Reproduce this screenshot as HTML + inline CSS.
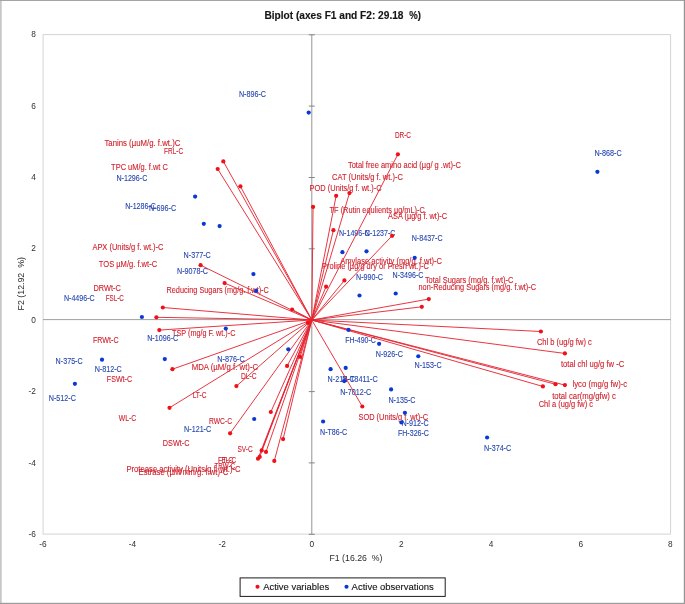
<!DOCTYPE html>
<html><head><meta charset="utf-8"><title>Biplot</title>
<style>html,body{margin:0;padding:0;background:#fff}body{width:685px;height:604px;overflow:hidden}svg{display:block;will-change:transform}text{font-family:"Liberation Sans",sans-serif}</style></head><body>
<svg width="685" height="604" viewBox="0 0 685 604">
<rect x="0" y="0" width="685" height="604" fill="#fff"/>
<rect x="0" y="0" width="1.7" height="604" fill="#c6c6c6"/>
<rect x="0" y="0" width="685" height="1" fill="#a4a4a4"/>
<rect x="683.8" y="0" width="1.2" height="604" fill="#949494"/>
<rect x="0" y="602.8" width="685" height="1.2" fill="#9c9c9c"/>
<rect x="43.1" y="34.6" width="627.5" height="499.5" fill="none" stroke="#d4d4d4" stroke-width="1"/>
<g stroke="#949494" stroke-width="1">
<line x1="43.1" y1="319.60" x2="670.6" y2="319.60" stroke-width="0.85" stroke="#8e8e8e"/>
<line x1="311.8" y1="34.6" x2="311.8" y2="534.1"/>
<line x1="308.8" y1="34.8" x2="314.8" y2="34.8" stroke="#7a7a7a" stroke-width="0.9"/>
<line x1="308.8" y1="106.1" x2="314.8" y2="106.1" stroke="#7a7a7a" stroke-width="0.9"/>
<line x1="308.8" y1="177.5" x2="314.8" y2="177.5" stroke="#7a7a7a" stroke-width="0.9"/>
<line x1="308.8" y1="248.8" x2="314.8" y2="248.8" stroke="#7a7a7a" stroke-width="0.9"/>
<line x1="308.8" y1="391.6" x2="314.8" y2="391.6" stroke="#7a7a7a" stroke-width="0.9"/>
<line x1="308.8" y1="462.9" x2="314.8" y2="462.9" stroke="#7a7a7a" stroke-width="0.9"/>
<line x1="308.8" y1="534.3" x2="314.8" y2="534.3" stroke="#7a7a7a" stroke-width="0.9"/>
</g>
<g font-size="8.3" fill="#303030">
<text x="35.8" y="37.3" text-anchor="end">8</text>
<text x="35.8" y="108.7" text-anchor="end">6</text>
<text x="35.8" y="180.0" text-anchor="end">4</text>
<text x="35.8" y="251.4" text-anchor="end">2</text>
<text x="35.8" y="322.8" text-anchor="end">0</text>
<text x="35.8" y="394.1" text-anchor="end">-2</text>
<text x="35.8" y="465.5" text-anchor="end">-4</text>
<text x="35.8" y="536.8" text-anchor="end">-6</text>
<text x="42.9" y="547.3" text-anchor="middle">-6</text>
<text x="132.5" y="547.3" text-anchor="middle">-4</text>
<text x="222.2" y="547.3" text-anchor="middle">-2</text>
<text x="311.8" y="547.3" text-anchor="middle">0</text>
<text x="401.4" y="547.3" text-anchor="middle">2</text>
<text x="491.1" y="547.3" text-anchor="middle">4</text>
<text x="580.7" y="547.3" text-anchor="middle">6</text>
<text x="670.4" y="547.3" text-anchor="middle">8</text>
</g>
<g font-size="10.4" font-weight="bold" fill="#161616" stroke="#161616" stroke-width="0.15"><text x="264.4" y="18.8" textLength="139.1" lengthAdjust="spacingAndGlyphs">Biplot (axes F1 and F2: 29.18</text><text x="409.3" y="18.8" textLength="11.7" lengthAdjust="spacingAndGlyphs">%)</text></g>
<text x="329.5" y="560.8" font-size="9.5" fill="#2a2a2a" textLength="52.9" lengthAdjust="spacingAndGlyphs" xml:space="preserve">F1 (16.26  %)</text>
<text transform="translate(23.7,310.4) rotate(-90)" font-size="9.5" fill="#2a2a2a" textLength="53.3" lengthAdjust="spacingAndGlyphs" xml:space="preserve">F2 (12.92  %)</text>
<g font-size="8.20" fill="#d0202c" stroke="#d0202c" stroke-width="0.1">
<text x="104.4" y="145.80" textLength="76.0" lengthAdjust="spacingAndGlyphs">Tanins (µuM/g. f.wt.)C</text>
<text x="164.1" y="153.60" textLength="19.1" lengthAdjust="spacingAndGlyphs">FRL-C</text>
<text x="111.1" y="170.20" textLength="56.8" lengthAdjust="spacingAndGlyphs">TPC uM/g. f.wt C</text>
<text x="92.4" y="250.20" textLength="71.1" lengthAdjust="spacingAndGlyphs">APX (Units/g f. wt.)-C</text>
<text x="98.8" y="266.70" textLength="58.3" lengthAdjust="spacingAndGlyphs">TOS µM/g. f.wt-C</text>
<text x="93.5" y="291.20" textLength="27.3" lengthAdjust="spacingAndGlyphs">DRWt-C</text>
<text x="166.5" y="293.00" textLength="102.3" lengthAdjust="spacingAndGlyphs">Reducing Sugars (mg/g. f.wt)-C</text>
<text x="105.8" y="301.00" textLength="18.1" lengthAdjust="spacingAndGlyphs">FSL-C</text>
<text x="93.0" y="343.20" textLength="25.6" lengthAdjust="spacingAndGlyphs">FRWt-C</text>
<text x="172.1" y="336.20" textLength="63.3" lengthAdjust="spacingAndGlyphs">TSP (mg/g F. wt.)-C</text>
<text x="106.8" y="381.50" textLength="25.3" lengthAdjust="spacingAndGlyphs">FSWt-C</text>
<text x="191.7" y="370.00" textLength="66.5" lengthAdjust="spacingAndGlyphs">MDA (µM/g f. wt)-C</text>
<text x="240.9" y="378.50" textLength="15.6" lengthAdjust="spacingAndGlyphs">DL-C</text>
<text x="192.7" y="398.20" textLength="13.8" lengthAdjust="spacingAndGlyphs">LT-C</text>
<text x="118.8" y="420.60" textLength="17.4" lengthAdjust="spacingAndGlyphs">WL-C</text>
<text x="209.0" y="424.30" textLength="23.1" lengthAdjust="spacingAndGlyphs">RWC-C</text>
<text x="162.8" y="446.40" textLength="26.6" lengthAdjust="spacingAndGlyphs">DSWt-C</text>
<text x="237.4" y="452.20" textLength="15.3" lengthAdjust="spacingAndGlyphs">SV-C</text>
<text x="218.0" y="463.40" textLength="15.2" lengthAdjust="spacingAndGlyphs">FT-C</text>
<text x="221.5" y="463.40" textLength="14.6" lengthAdjust="spacingAndGlyphs">EL-C</text>
<text x="214.6" y="469.40" textLength="20.4" lengthAdjust="spacingAndGlyphs">TRW-C</text>
<text x="126.4" y="471.80" textLength="114.2" lengthAdjust="spacingAndGlyphs">Protease activity (Units/g f. wt.)-C</text>
<text x="138.6" y="474.50" textLength="89.6" lengthAdjust="spacingAndGlyphs">Estrase (µM/min/g. f.wt)-C</text>
<text x="394.9" y="137.80" textLength="16.1" lengthAdjust="spacingAndGlyphs">DR-C</text>
<text x="347.9" y="168.30" textLength="113.0" lengthAdjust="spacingAndGlyphs">Total free amino acid (µg/ g .wt)-C</text>
<text x="332.1" y="180.10" textLength="70.8" lengthAdjust="spacingAndGlyphs">CAT (Units/g f. wt.)-C</text>
<text x="309.6" y="190.50" textLength="72.0" lengthAdjust="spacingAndGlyphs">POD (Units/g f. wt.)-C</text>
<text x="329.6" y="213.40" textLength="95.2" lengthAdjust="spacingAndGlyphs">TF (Rutin equlients µg/mL)-C</text>
<text x="388.1" y="219.20" textLength="59.0" lengthAdjust="spacingAndGlyphs">ASA (µg/g f. wt)-C</text>
<text x="340.2" y="263.90" textLength="101.9" lengthAdjust="spacingAndGlyphs">Amylase activity (mg/g. f.wt)-C</text>
<text x="322.1" y="269.10" textLength="106.7" lengthAdjust="spacingAndGlyphs">Proline (µg/g dry or Fresh wt.)-C</text>
<text x="424.9" y="282.60" textLength="88.5" lengthAdjust="spacingAndGlyphs">Total Sugars (mg/g. f.wt)-C</text>
<text x="418.5" y="290.20" textLength="117.5" lengthAdjust="spacingAndGlyphs">non-Reducing Sugars (mg/g. f.wt)-C</text>
<text x="358.5" y="419.60" textLength="69.5" lengthAdjust="spacingAndGlyphs">SOD (Units/g f. wt)-C</text>
<text x="536.9" y="345.10" textLength="54.9" lengthAdjust="spacingAndGlyphs">Chl b (ug/g fw) c</text>
<text x="561.0" y="366.80" textLength="63.2" lengthAdjust="spacingAndGlyphs">total chl ug/g fw -C</text>
<text x="572.5" y="387.25" textLength="54.7" lengthAdjust="spacingAndGlyphs">lyco (mg/g fw)-c</text>
<text x="552.2" y="398.70" textLength="63.7" lengthAdjust="spacingAndGlyphs">total car(mg/gfw) c</text>
<text x="538.7" y="406.70" textLength="54.3" lengthAdjust="spacingAndGlyphs">Chl a (ug/g fw) c</text>
</g>
<g font-size="8.20" fill="#2444b0" stroke="#2444b0" stroke-width="0.1">
<text x="238.9" y="96.60" textLength="27.1" lengthAdjust="spacingAndGlyphs">N-896-C</text>
<text x="116.4" y="180.50" textLength="30.9" lengthAdjust="spacingAndGlyphs">N-1296-C</text>
<text x="125.2" y="209.00" textLength="30.6" lengthAdjust="spacingAndGlyphs">N-1286-C</text>
<text x="149.0" y="211.00" textLength="27.2" lengthAdjust="spacingAndGlyphs">N-696-C</text>
<text x="183.6" y="258.20" textLength="27.2" lengthAdjust="spacingAndGlyphs">N-377-C</text>
<text x="177.0" y="274.40" textLength="31.0" lengthAdjust="spacingAndGlyphs">N-9078-C</text>
<text x="63.9" y="301.00" textLength="30.8" lengthAdjust="spacingAndGlyphs">N-4496-C</text>
<text x="147.2" y="340.90" textLength="31.0" lengthAdjust="spacingAndGlyphs">N-1096-C</text>
<text x="55.6" y="363.80" textLength="27.1" lengthAdjust="spacingAndGlyphs">N-375-C</text>
<text x="94.7" y="372.10" textLength="27.1" lengthAdjust="spacingAndGlyphs">N-812-C</text>
<text x="48.8" y="401.10" textLength="27.1" lengthAdjust="spacingAndGlyphs">N-512-C</text>
<text x="217.3" y="362.30" textLength="27.4" lengthAdjust="spacingAndGlyphs">N-876-C</text>
<text x="184.1" y="432.10" textLength="27.1" lengthAdjust="spacingAndGlyphs">N-121-C</text>
<text x="338.9" y="236.00" textLength="30.9" lengthAdjust="spacingAndGlyphs">N-1496-C</text>
<text x="364.8" y="236.00" textLength="30.6" lengthAdjust="spacingAndGlyphs">N-1237-C</text>
<text x="411.7" y="241.00" textLength="30.9" lengthAdjust="spacingAndGlyphs">N-8437-C</text>
<text x="356.0" y="279.50" textLength="26.9" lengthAdjust="spacingAndGlyphs">N-990-C</text>
<text x="392.6" y="277.50" textLength="30.9" lengthAdjust="spacingAndGlyphs">N-3496-C</text>
<text x="345.2" y="342.50" textLength="30.6" lengthAdjust="spacingAndGlyphs">FH-490-C</text>
<text x="375.8" y="356.60" textLength="27.1" lengthAdjust="spacingAndGlyphs">N-926-C</text>
<text x="414.5" y="368.40" textLength="27.1" lengthAdjust="spacingAndGlyphs">N-153-C</text>
<text x="327.6" y="381.50" textLength="27.1" lengthAdjust="spacingAndGlyphs">N-213-C</text>
<text x="342.2" y="381.50" textLength="35.6" lengthAdjust="spacingAndGlyphs">N-T8411-C</text>
<text x="340.2" y="394.60" textLength="31.1" lengthAdjust="spacingAndGlyphs">N-7012-C</text>
<text x="388.4" y="403.00" textLength="27.1" lengthAdjust="spacingAndGlyphs">N-135-C</text>
<text x="401.4" y="425.60" textLength="27.2" lengthAdjust="spacingAndGlyphs">N-912-C</text>
<text x="397.9" y="436.20" textLength="31.1" lengthAdjust="spacingAndGlyphs">FH-326-C</text>
<text x="320.1" y="435.30" textLength="27.1" lengthAdjust="spacingAndGlyphs">N-T86-C</text>
<text x="484.1" y="451.00" textLength="27.1" lengthAdjust="spacingAndGlyphs">N-374-C</text>
<text x="594.4" y="155.70" textLength="27.3" lengthAdjust="spacingAndGlyphs">N-868-C</text>
</g>
<g stroke="#e62430" stroke-width="0.92" fill="none">
<line x1="311.8" y1="320.0" x2="223.30" y2="161.40"/>
<line x1="311.8" y1="320.0" x2="217.70" y2="169.00"/>
<line x1="311.8" y1="320.0" x2="240.40" y2="186.30"/>
<line x1="311.8" y1="320.0" x2="200.60" y2="265.20"/>
<line x1="311.8" y1="320.0" x2="224.60" y2="283.10"/>
<line x1="311.8" y1="320.0" x2="162.80" y2="307.50"/>
<line x1="311.8" y1="320.0" x2="156.40" y2="317.30"/>
<line x1="311.8" y1="320.0" x2="159.30" y2="330.10"/>
<line x1="311.8" y1="320.0" x2="172.40" y2="369.20"/>
<line x1="311.8" y1="320.0" x2="169.50" y2="407.80"/>
<line x1="311.8" y1="320.0" x2="236.40" y2="386.10"/>
<line x1="311.8" y1="320.0" x2="230.10" y2="433.30"/>
<line x1="311.8" y1="320.0" x2="287.10" y2="365.90"/>
<line x1="311.8" y1="320.0" x2="300.10" y2="356.80"/>
<line x1="311.8" y1="320.0" x2="270.80" y2="412.00"/>
<line x1="311.8" y1="320.0" x2="283.10" y2="439.10"/>
<line x1="311.8" y1="320.0" x2="261.70" y2="450.40"/>
<line x1="311.8" y1="320.0" x2="266.00" y2="451.90"/>
<line x1="311.8" y1="320.0" x2="259.70" y2="456.90"/>
<line x1="311.8" y1="320.0" x2="258.00" y2="458.70"/>
<line x1="311.8" y1="320.0" x2="274.30" y2="460.90"/>
<line x1="311.8" y1="320.0" x2="292.10" y2="309.50"/>
<line x1="311.8" y1="320.0" x2="307.90" y2="322.80"/>
<line x1="311.8" y1="320.0" x2="313.05" y2="206.90"/>
<line x1="311.8" y1="320.0" x2="336.15" y2="195.80"/>
<line x1="311.8" y1="320.0" x2="349.45" y2="193.10"/>
<line x1="311.8" y1="320.0" x2="397.90" y2="154.30"/>
<line x1="311.8" y1="320.0" x2="333.40" y2="230.15"/>
<line x1="311.8" y1="320.0" x2="392.10" y2="235.80"/>
<line x1="311.8" y1="320.0" x2="344.40" y2="280.40"/>
<line x1="311.8" y1="320.0" x2="326.10" y2="286.70"/>
<line x1="311.8" y1="320.0" x2="428.80" y2="299.05"/>
<line x1="311.8" y1="320.0" x2="421.80" y2="306.80"/>
<line x1="311.8" y1="320.0" x2="362.30" y2="406.50"/>
<line x1="311.8" y1="320.0" x2="540.90" y2="331.50"/>
<line x1="311.8" y1="320.0" x2="564.90" y2="353.45"/>
<line x1="311.8" y1="320.0" x2="542.90" y2="386.45"/>
<line x1="311.8" y1="320.0" x2="555.50" y2="384.25"/>
<line x1="311.8" y1="320.0" x2="564.90" y2="385.10"/>
</g>
<g fill="#f01018">
<circle cx="223.30" cy="161.40" r="2.1"/>
<circle cx="217.70" cy="169.00" r="2.1"/>
<circle cx="240.40" cy="186.30" r="2.1"/>
<circle cx="200.60" cy="265.20" r="2.1"/>
<circle cx="224.60" cy="283.10" r="2.1"/>
<circle cx="162.80" cy="307.50" r="2.1"/>
<circle cx="156.40" cy="317.30" r="2.1"/>
<circle cx="159.30" cy="330.10" r="2.1"/>
<circle cx="172.40" cy="369.20" r="2.1"/>
<circle cx="169.50" cy="407.80" r="2.1"/>
<circle cx="236.40" cy="386.10" r="2.1"/>
<circle cx="230.10" cy="433.30" r="2.1"/>
<circle cx="287.10" cy="365.90" r="2.1"/>
<circle cx="300.10" cy="356.80" r="2.1"/>
<circle cx="270.80" cy="412.00" r="2.1"/>
<circle cx="283.10" cy="439.10" r="2.1"/>
<circle cx="261.70" cy="450.40" r="2.1"/>
<circle cx="266.00" cy="451.90" r="2.1"/>
<circle cx="259.70" cy="456.90" r="2.1"/>
<circle cx="258.00" cy="458.70" r="2.1"/>
<circle cx="274.30" cy="460.90" r="2.1"/>
<circle cx="292.10" cy="309.50" r="2.1"/>
<circle cx="307.90" cy="322.80" r="2.1"/>
<circle cx="313.05" cy="206.90" r="2.1"/>
<circle cx="336.15" cy="195.80" r="2.1"/>
<circle cx="349.45" cy="193.10" r="2.1"/>
<circle cx="397.90" cy="154.30" r="2.1"/>
<circle cx="333.40" cy="230.15" r="2.1"/>
<circle cx="392.10" cy="235.80" r="2.1"/>
<circle cx="344.40" cy="280.40" r="2.1"/>
<circle cx="326.10" cy="286.70" r="2.1"/>
<circle cx="428.80" cy="299.05" r="2.1"/>
<circle cx="421.80" cy="306.80" r="2.1"/>
<circle cx="362.30" cy="406.50" r="2.1"/>
<circle cx="540.90" cy="331.50" r="2.1"/>
<circle cx="564.90" cy="353.45" r="2.1"/>
<circle cx="542.90" cy="386.45" r="2.1"/>
<circle cx="555.50" cy="384.25" r="2.1"/>
<circle cx="564.90" cy="385.10" r="2.1"/>
</g><g fill="#0838d8">
<circle cx="308.70" cy="112.60" r="2.1"/>
<circle cx="195.10" cy="196.60" r="2.1"/>
<circle cx="203.80" cy="223.80" r="2.1"/>
<circle cx="219.60" cy="226.10" r="2.1"/>
<circle cx="253.40" cy="274.10" r="2.1"/>
<circle cx="256.20" cy="290.90" r="2.1"/>
<circle cx="141.90" cy="317.00" r="2.1"/>
<circle cx="102.00" cy="359.70" r="2.1"/>
<circle cx="164.80" cy="359.10" r="2.1"/>
<circle cx="74.90" cy="383.80" r="2.1"/>
<circle cx="225.80" cy="328.60" r="2.1"/>
<circle cx="288.30" cy="349.30" r="2.1"/>
<circle cx="254.20" cy="419.00" r="2.1"/>
<circle cx="342.40" cy="252.15" r="2.1"/>
<circle cx="366.50" cy="251.35" r="2.1"/>
<circle cx="414.70" cy="257.80" r="2.1"/>
<circle cx="359.50" cy="295.50" r="2.1"/>
<circle cx="395.70" cy="293.50" r="2.1"/>
<circle cx="348.50" cy="329.90" r="2.1"/>
<circle cx="379.10" cy="343.85" r="2.1"/>
<circle cx="418.30" cy="356.25" r="2.1"/>
<circle cx="330.60" cy="369.15" r="2.1"/>
<circle cx="345.70" cy="367.95" r="2.1"/>
<circle cx="344.20" cy="381.10" r="2.1"/>
<circle cx="391.10" cy="389.40" r="2.1"/>
<circle cx="404.90" cy="412.80" r="2.1"/>
<circle cx="401.40" cy="422.50" r="2.1"/>
<circle cx="323.10" cy="421.50" r="2.1"/>
<circle cx="487.10" cy="437.50" r="2.1"/>
<circle cx="597.40" cy="171.80" r="2.1"/>
</g>
<rect x="240.1" y="577.9" width="205.1" height="18.5" fill="#fff" stroke="#1c1c1c" stroke-width="1"/>
<circle cx="257.5" cy="586.8" r="2.05" fill="#f01018"/><circle cx="346.5" cy="586.8" r="2.05" fill="#0838d8"/>
<g font-size="9.4" fill="#141414" stroke="#141414" stroke-width="0.12"><text x="263.2" y="590.1" textLength="65.9" lengthAdjust="spacingAndGlyphs">Active variables</text><text x="351.6" y="590.1" textLength="82.2" lengthAdjust="spacingAndGlyphs">Active observations</text></g>
</svg></body></html>
